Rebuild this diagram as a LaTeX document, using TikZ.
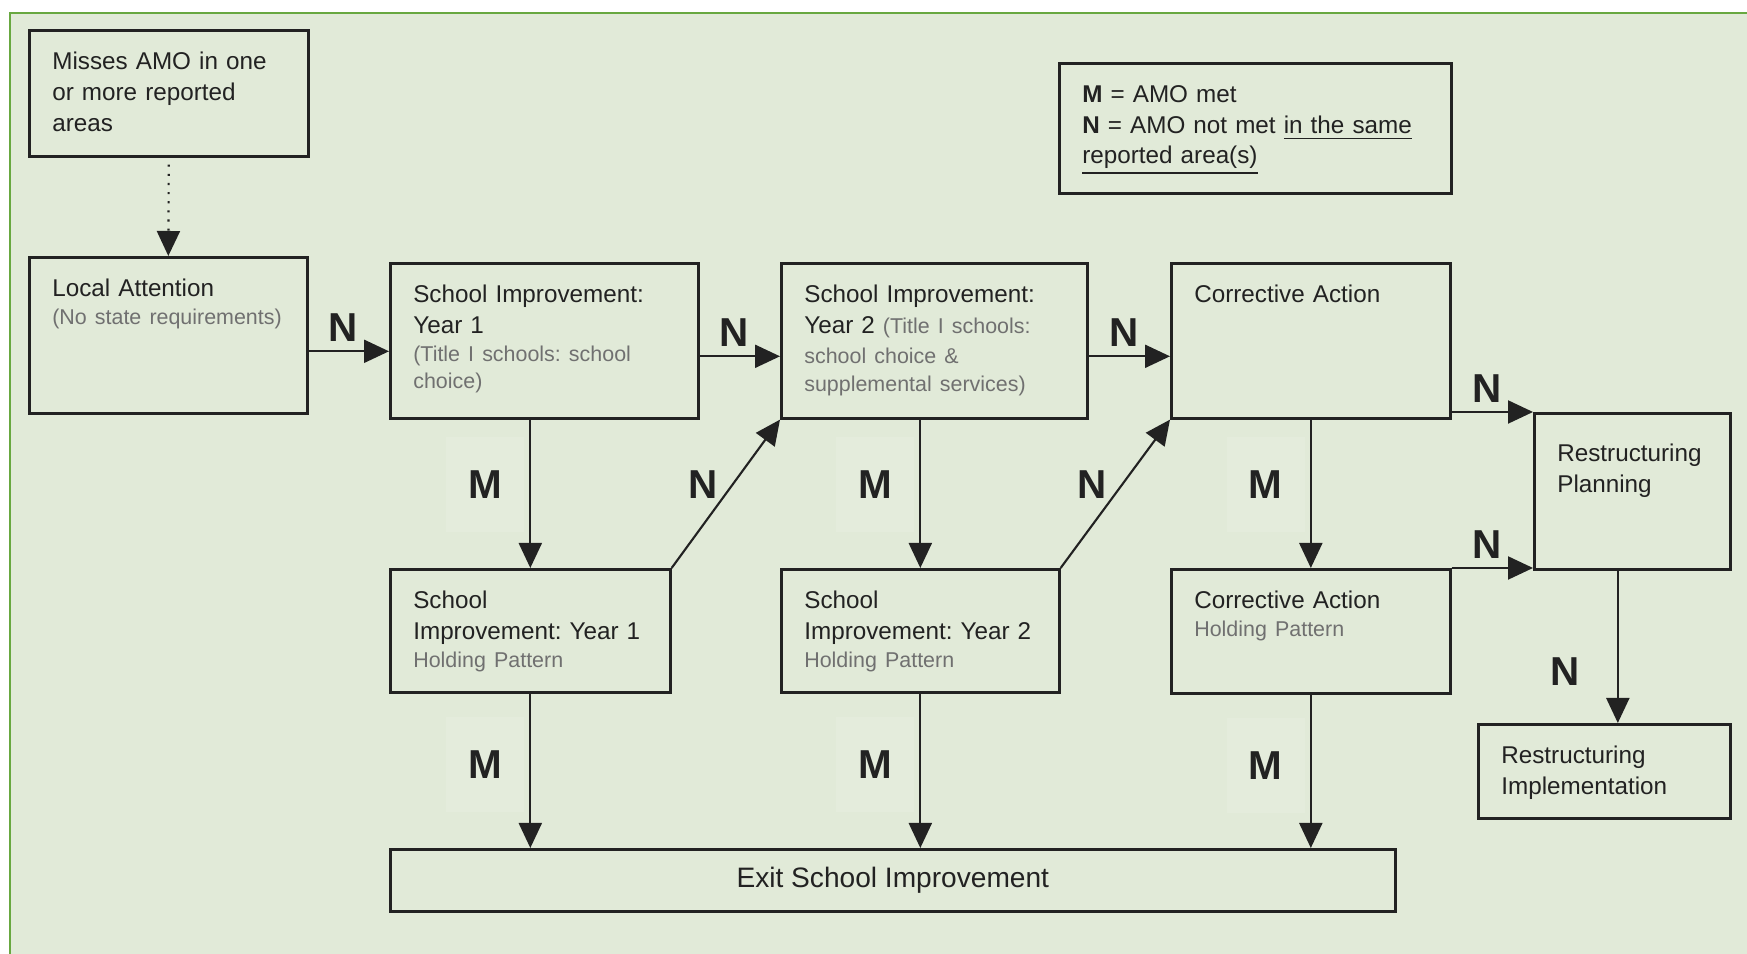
\documentclass[tikz,border=0pt]{standalone}
\usepackage{fontspec}
\setmainfont{Liberation Sans}
\usepackage{tikz}
\usetikzlibrary{arrows.meta}

\definecolor{panelbg}{RGB}{225,234,216}
\definecolor{panelframe}{RGB}{104,168,64}
\definecolor{boxline}{RGB}{34,34,34}
\definecolor{subgrey}{RGB}{112,112,112}
\definecolor{mpatch}{RGB}{228,236,220}

\newcommand{\subtext}{\fontsize{6.1}{8.8}\selectfont\color{subgrey}}

\tikzset{
  >={Triangle[length=2.5mm,width=2.3mm]},
  stage/.style={draw=boxline, line width=0.75pt, anchor=north west, align=left,
    inner xsep=0.23cm, inner ysep=0.15cm, text height=0.24cm,
    font=\fontsize{6.9}{8.8}\selectfont\frenchspacing, text=boxline},
  flow/.style={->, line width=0.6pt, draw=boxline},
  nlabel/.style={font=\fontsize{11.5}{12}\selectfont\bfseries, text=boxline, inner sep=2.5pt},
  mlabel/.style={nlabel, fill=mpatch, minimum width=0.78cm, minimum height=0.95cm}
}

\begin{document}
\begin{tikzpicture}
\useasboundingbox (0,0) rectangle (17.47,-9.54);
\fill[panelbg] (0.10,-0.13) rectangle (17.47,-9.54);
\draw[panelframe, line width=0.8pt] (0.10,-9.54) -- (0.10,-0.13) -- (17.47,-0.13);

\node[stage, text width=2.33cm, text depth=0.72cm] (miss) at (0.28,-0.29)
  {Misses AMO in one\\ or more reported\\ areas};
\node[stage, text width=2.32cm, text depth=1.02cm] (local) at (0.28,-2.56)
  {Local Attention\\[-0.85pt] {\subtext (No state requirements)}};
\node[stage, text width=2.62cm, text depth=1.01cm] (si1) at (3.89,-2.62)
  {School Improvement:\\ Year 1\\[-0.85pt] {\subtext (Title I schools: school\\[-1.1pt] choice)}};
\node[stage, text width=2.60cm, text depth=1.01cm] (si2) at (7.80,-2.62)
  {School Improvement:\\ Year 2 {\subtext (Title I schools:\\[-0.3pt] school choice \&\\[-0.85pt] supplemental services)}};
\node[stage, text width=2.33cm, text depth=1.01cm] (ca) at (11.70,-2.62)
  {Corrective Action};
\node[stage, text width=1.50cm, text height=0.33cm, text depth=0.93cm] (rp) at (15.33,-4.12)
  {Restructuring\\ Planning};
\node[stage, text width=2.34cm, text depth=0.69cm] (hp1) at (3.89,-5.68)
  {School\\ Improvement: Year 1\\[-0.85pt] {\subtext Holding Pattern}};
\node[stage, text width=2.32cm, text depth=0.69cm] (hp2) at (7.80,-5.68)
  {School\\ Improvement: Year 2\\[-0.85pt] {\subtext Holding Pattern}};
\node[stage, text width=2.33cm, text depth=0.70cm] (hpca) at (11.70,-5.68)
  {Corrective Action\\[-0.85pt] {\subtext Holding Pattern}};
\node[stage, text width=2.06cm, text depth=0.40cm] (ri) at (14.77,-7.23)
  {Restructuring\\ Implementation};
\node[draw=boxline, line width=0.75pt, anchor=north west, minimum width=10.05cm,
  minimum height=0.62cm, font=\fontsize{8}{9}\selectfont, text=boxline] (exit) at (3.89,-8.48)
  {Exit School Improvement};
\node[stage, text width=3.46cm, text depth=0.76cm] (key) at (10.58,-0.62)
  {\textbf{M} = AMO met\\ \textbf{N} = AMO not met \underline{in the same}\\[-0.3pt] \underline{reported area(s)}};

\draw[flow, dotted, shorten <=0.07cm] (miss.south) -- (local.north);
\draw[flow] ([yshift=-0.16cm]local.east) -- ([yshift=-0.16cm]local.east -| si1.west) node[nlabel, pos=0.43, above] {N};
\draw[flow] ([yshift=-0.155cm]si1.east) -- ([yshift=-0.155cm]si2.west) node[nlabel, pos=0.43, above] {N};
\draw[flow] ([yshift=-0.155cm]si2.east) -- ([yshift=-0.155cm]ca.west) node[nlabel, pos=0.43, above] {N};
\draw[flow] (ca.east |- rp.north west) -- (rp.north west) node[nlabel, pos=0.43, above] {N};
\draw[flow] (hpca.north east) -- (hpca.north east -| rp.west) node[nlabel, pos=0.43, above] {N};
\draw[flow] ([xshift=-0.145cm]rp.south) -- ([xshift=-0.145cm]rp.south |- ri.north) node[nlabel, pos=0.66, left=8pt] {N};

\draw[flow] (si1.south -| hp1.north) -- (hp1.north) node[mlabel, pos=0.44, left=0.05cm] {M};
\draw[flow] (si2.south -| hp2.north) -- (hp2.north) node[mlabel, pos=0.44, left=0.05cm] {M};
\draw[flow] (ca.south -| hpca.north) -- (hpca.north) node[mlabel, pos=0.44, left=0.05cm] {M};
\draw[flow] (hp1.north east) -- (si2.south west) node[nlabel, pos=0.56, left=1.5pt] {N};
\draw[flow] (hp2.north east) -- (ca.south west) node[nlabel, pos=0.56, left=1.5pt] {N};

\draw[flow] (hp1.south) -- (hp1.south |- exit.north) node[mlabel, pos=0.46, left=0.05cm] {M};
\draw[flow] (hp2.south) -- (hp2.south |- exit.north) node[mlabel, pos=0.46, left=0.05cm] {M};
\draw[flow] (hpca.south) -- (hpca.south |- exit.north) node[mlabel, pos=0.46, left=0.05cm] {M};
\end{tikzpicture}
\end{document}
